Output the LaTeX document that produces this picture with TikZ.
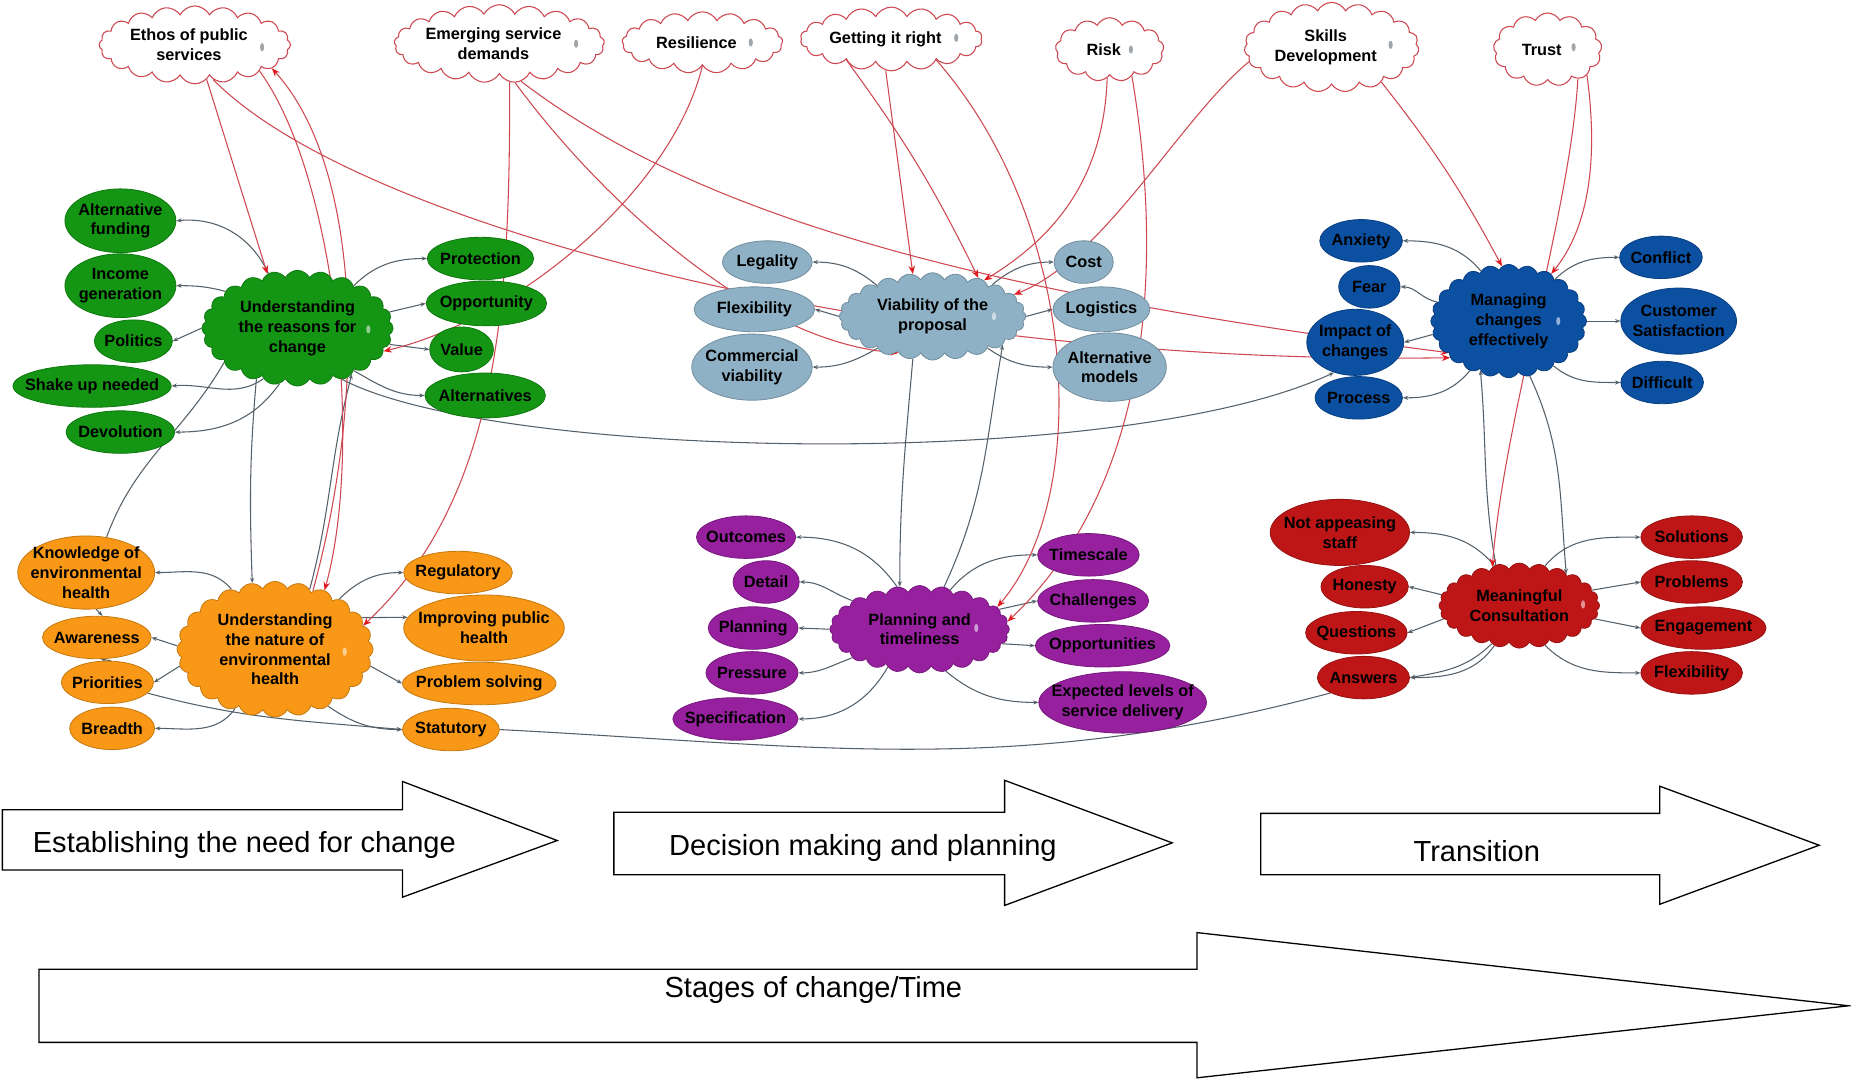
\documentclass[tikz,border=0pt]{standalone}
\usepackage{fontspec}
\setmainfont{Liberation Sans}
\usetikzlibrary{shapes.geometric,shapes.symbols,arrows.meta,calc}
\pgfdeclarelayer{background}
\pgfsetlayers{background,main}

\definecolor{cgreen}{RGB}{20,150,20}
\definecolor{corange}{RGB}{248,152,22}
\definecolor{cpale}{RGB}{143,177,197}
\definecolor{cpurple}{RGB}{150,32,158}
\definecolor{cblue}{RGB}{12,80,162}
\definecolor{cred}{RGB}{190,22,22}
\definecolor{linkred}{RGB}{206,72,82}
\definecolor{tipred}{RGB}{225,25,30}
\definecolor{linkgrey}{RGB}{84,96,106}
\definecolor{icongrey}{RGB}{160,165,170}

\newcommand\nf{\bfseries\fontsize{13.8}{16.8}\selectfont}
\newcommand\stf{\fontsize{24.6}{28}\selectfont}

\tikzset{
  sz/.style 2 args={minimum width=#1pt, minimum height=#2pt},
  leaf/.style={ellipse, fill=#1, draw=#1!80!black, line width=0.7pt, inner sep=0pt},
  hub/.style={cloud, cloud puffs=24, cloud puff arc=125, cloud ignores aspect,
    fill=#1, draw=#1!80!black, line width=0.7pt, inner sep=0pt},
  theme/.style={cloud, cloud puffs=#1, cloud puff arc=125, cloud ignores aspect,
    fill=white, draw=linkred, line width=0.9pt, inner sep=0pt},
  lbl/.style={font=\nf, align=center, inner sep=0pt},
  tlbl/.style={lbl, xshift=-5pt},
  gc/.style={draw=linkgrey, line width=0.9pt, -{Stealth[length=4.5pt,width=3.5pt]}},
  gcn/.style={draw=linkgrey, line width=0.9pt},
  rc/.style={draw=linkred, line width=0.9pt, -{Stealth[length=7pt,width=5.5pt,color=tipred]}},
  stage/.style={draw=black, line width=1.1pt, fill=white},
  stagetext/.style={font=\stf, inner sep=0pt},
  icon/.style={ellipse, fill=icongrey, inner sep=0pt, minimum width=3.5pt, minimum height=7pt},
  hicon/.style={icon, fill=white, fill opacity=0.55},
}

\begin{document}
\begin{tikzpicture}[x=1pt,y=-1pt]
\useasboundingbox (0,0) rectangle (1568,914);

% ---------- themes ----------
\node[theme=20, sz={162}{66}, label={[tlbl]center:{Ethos of public\\services}}] (cEt) at (165,38) {};
\node[theme=21, sz={178}{66}, label={[tlbl]center:{Emerging service\\demands}}] (cEm) at (423,37) {};
\node[theme=17, sz={136}{52}, label={[tlbl]center:{Resilience}}] (cRe) at (595,36) {};
\node[theme=18, sz={154}{54}, label={[tlbl]center:{Getting it right}}] (cGe) at (755,33) {};
\node[theme=13, sz={92}{54}, label={[tlbl]center:{Risk}}] (cRi) at (940,42) {};
\node[theme=19, sz={148}{76}, label={[tlbl]center:{Skills\\Development}}] (cSk) at (1128,40) {};
\node[theme=13, sz={92}{62}, label={[tlbl]center:{Trust}}] (cTr) at (1311,42) {};

% ---------- reasons for change ----------
\node[hub=cgreen, sz={162}{98}, label={[lbl]center:{Understanding\\the reasons for\\change}}] (gC) at (252,278) {};
\node[leaf=cgreen, sz={94}{54}, label={[lbl]center:{Alternative\\funding}}] (gAF) at (102,187) {};
\node[leaf=cgreen, sz={94}{54}, label={[lbl]center:{Income\\generation}}] (gIG) at (102,242) {};
\node[leaf=cgreen, sz={66}{36}, label={[lbl]center:{Politics}}] (gPo) at (113,289) {};
\node[leaf=cgreen, sz={134}{36}, label={[lbl]center:{Shake up needed}}] (gSU) at (78,327) {};
\node[leaf=cgreen, sz={92}{36}, label={[lbl]center:{Devolution}}] (gDe) at (102,366) {};
\node[leaf=cgreen, sz={90}{36}, label={[lbl]center:{Protection}}] (gPr) at (407,219) {};
\node[leaf=cgreen, sz={102}{38}, label={[lbl]center:{Opportunity}}] (gOp) at (412,257) {};
\node[leaf=cgreen, sz={54}{38}, label={[lbl]center:{Value}}] (gVa) at (391,296) {};
\node[leaf=cgreen, sz={102}{38}, label={[lbl]center:{Alternatives}}] (gAl) at (411,335) {};

% ---------- nature of environmental health ----------
\node[hub=corange, sz={166}{115}, label={[lbl]center:{Understanding\\the nature of\\environmental\\health}}] (oC) at (233,550) {};
\node[leaf=corange, sz={116}{62}, label={[lbl]center:{Knowledge of\\environmental\\health}}] (oKn) at (73,485) {};
\node[leaf=corange, sz={92}{36}, label={[lbl]center:{Awareness}}] (oAw) at (82,540) {};
\node[leaf=corange, sz={78}{36}, label={[lbl]center:{Priorities}}] (oPri) at (91,578) {};
\node[leaf=corange, sz={72}{36}, label={[lbl]center:{Breadth}}] (oBr) at (95,617) {};
\node[leaf=corange, sz={92}{36}, label={[lbl]center:{Regulatory}}] (oRe) at (388,485) {};
\node[leaf=corange, sz={136}{56}, label={[lbl]center:{Improving public\\health}}] (oIm) at (410,532) {};
\node[leaf=corange, sz={130}{36}, label={[lbl]center:{Problem solving}}] (oPS) at (406,579) {};
\node[leaf=corange, sz={82}{36}, label={[lbl]center:{Statutory}}] (oSt) at (382,618) {};

% ---------- viability ----------
\node[hub=cpale, sz={158}{74}, label={[lbl]center:{Viability of the\\proposal}}] (bC) at (790,268) {};
\node[leaf=cpale, sz={76}{36}, label={[lbl]center:{Legality}}] (bLe) at (650,222) {};
\node[leaf=cpale, sz={102}{38}, label={[lbl]center:{Flexibility}}] (bFl) at (639,262) {};
\node[leaf=cpale, sz={102}{56}, label={[lbl]center:{Commercial\\viability}}] (bCV) at (637,311) {};
\node[leaf=cpale, sz={50}{36}, label={[lbl]center:{Cost}}] (bCo) at (918,222) {};
\node[leaf=cpale, sz={82}{38}, label={[lbl]center:{Logistics}}] (bLo) at (933,262) {};
\node[leaf=cpale, sz={96}{58}, label={[lbl]center:{Alternative\\models}}] (bAM) at (940,311) {};

% ---------- planning ----------
\node[hub=cpurple, sz={152}{74}, label={[lbl]center:{Planning and\\timeliness}}] (pC) at (779,533) {};
\node[leaf=cpurple, sz={84}{36}, label={[lbl]center:{Outcomes}}] (pOu) at (632,455) {};
\node[leaf=cpurple, sz={56}{36}, label={[lbl]center:{Detail}}] (pDe) at (649,493) {};
\node[leaf=cpurple, sz={76}{36}, label={[lbl]center:{Planning}}] (pPl) at (638,532) {};
\node[leaf=cpurple, sz={78}{36}, label={[lbl]center:{Pressure}}] (pPr) at (637,570) {};
\node[leaf=cpurple, sz={106}{36}, label={[lbl]center:{Specification}}] (pSp) at (623,609) {};
\node[leaf=cpurple, sz={86}{36}, label={[lbl]center:{Timescale}}] (pTi) at (922,470) {};
\node[leaf=cpurple, sz={94}{36}, label={[lbl]center:{Challenges}}] (pCh) at (926,509) {};
\node[leaf=cpurple, sz={114}{36}, label={[lbl]center:{Opportunities}}] (pOp) at (934,547) {};
\node[leaf=cpurple, sz={142}{52}, label={[lbl]center:{Expected levels of\\service delivery}}] (pEx) at (951,595) {};

% ---------- managing change ----------
\node[hub=cblue, sz={132}{96}, label={[lbl]center:{Managing\\changes\\effectively}}] (uC) at (1278,272) {};
\node[leaf=cblue, sz={70}{36}, label={[lbl]center:{Anxiety}}] (uAn) at (1153,204) {};
\node[leaf=cblue, sz={52}{36}, label={[lbl]center:{Fear}}] (uFe) at (1160,243) {};
\node[leaf=cblue, sz={82}{56}, label={[lbl]center:{Impact of\\changes}}] (uIm) at (1148,290) {};
\node[leaf=cblue, sz={74}{36}, label={[lbl]center:{Process}}] (uPr) at (1151,337) {};
\node[leaf=cblue, sz={70}{36}, label={[lbl]center:{Conflict}}] (uCo) at (1407,218) {};
\node[leaf=cblue, sz={98}{56}, label={[lbl]center:{Customer\\Satisfaction}}] (uCS) at (1422,272) {};
\node[leaf=cblue, sz={70}{36}, label={[lbl]center:{Difficult}}] (uDi) at (1408,324) {};

% ---------- consultation ----------
\node[hub=cred, sz={136}{72}, label={[lbl]center:{Meaningful\\Consultation}}] (rC) at (1287,513) {};
\node[leaf=cred, sz={118}{56}, label={[lbl]center:{Not appeasing\\staff}}] (rNA) at (1135,451) {};
\node[leaf=cred, sz={74}{36}, label={[lbl]center:{Honesty}}] (rHo) at (1156,497) {};
\node[leaf=cred, sz={86}{36}, label={[lbl]center:{Questions}}] (rQu) at (1149,536) {};
\node[leaf=cred, sz={78}{36}, label={[lbl]center:{Answers}}] (rAn) at (1155,574) {};
\node[leaf=cred, sz={86}{36}, label={[lbl]center:{Solutions}}] (rSo) at (1433,455) {};
\node[leaf=cred, sz={86}{36}, label={[lbl]center:{Problems}}] (rPr) at (1433,493) {};
\node[leaf=cred, sz={106}{36}, label={[lbl]center:{Engagement}}] (rEn) at (1443,532) {};
\node[leaf=cred, sz={86}{36}, label={[lbl]center:{Flexibility}}] (rFl) at (1433,570) {};

% ---------- attachment icons ----------
\node[icon] (i1) at (222,40) {};
\node[icon] (i2) at (488,37) {};
\node[icon] (i3) at (636,36) {};
\node[icon] (i4) at (810,32) {};
\node[icon] (i5) at (958,42) {};
\node[icon] (i6) at (1178,38) {};
\node[icon] (i7) at (1333,40) {};
\node[hicon] (i8) at (312,279) {};
\node[hicon] (i9) at (292,552) {};
\node[hicon] (i10) at (842,268) {};
\node[hicon] (i11) at (827,532) {};
\node[hicon] (i12) at (1320,272) {};
\node[hicon] (i13) at (1341,512) {};

% ---------- links ----------
\begin{pgfonlayer}{background}
% reasons for change
\draw[gc] (gC.118) to[out=115,in=5] (gAF.east);
\draw[gc] (gC.153) to[out=165,in=0] (gIG.east);
\draw[gc] (gC.180) -- (gPo.east);
\draw[gc] (gC.236) to[out=215,in=5] (gSU.east);
\draw[gc] (gC.252) to[out=235,in=0] (gDe.east);
\draw[gc] (gC.37) to[out=45,in=180] (gPr.west);
\draw[gc] (gC.10) -- (gOp.west);
\draw[gc] (gC.-10) -- (gVa.west);
\draw[gc] (gC.-37) to[out=-30,in=180] (gAl.west);
% nature of environmental health
\draw[gc] (oC.126) to[out=130,in=0] (oKn.east);
\draw[gc] (oC.178) -- (oAw.east);
\draw[gc] (oC.190) -- (oPri.east);
\draw[gc] (oC.236) to[out=235,in=0] (oBr.east);
\draw[gc] (oC.38) to[out=45,in=180] (oRe.west);
\draw[gc] (oC.20) -- (oIm.172);
\draw[gc] (oC.-10) -- (oPS.west);
\draw[gc] (oC.-47) to[out=-35,in=180] (oSt.west);
\draw[gc] (oKn.-75) -- (oAw.75);
\draw[gc] (oPri.80) -- (oAw.-80);
\draw[gc] (oPri.-15) to[out=-15,in=175] (oSt.west);
\draw[gcn] (oSt.east) to[out=-3,in=195] (rAn.205);
% between clusters
\draw[gc] (gC.231) to[out=-95,in=92] (oC.109);
\draw[gc] (oC.60) to[out=75,in=-105] (gC.-40);
\draw[gcn] (gC.205) to[out=240,in=70] (oKn.60);
\draw[gc] (gC.-49) .. controls (420,390) and (950,400) .. (uIm.235);
% viability
\draw[gc] (bC.151) to[out=140,in=0] (bLe.east);
\draw[gc] (bC.180) -- (bFl.east);
\draw[gc] (bC.210) to[out=210,in=0] (bCV.east);
\draw[gc] (bC.28) to[out=40,in=180] (bCo.west);
\draw[gc] (bC.0) -- (bLo.west);
\draw[gc] (bC.-30) to[out=-35,in=180] (bAM.west);
\draw[gc] (bC.245) to[out=-95,in=90] (pC.115);
\draw[gc] (pC.60) to[out=65,in=-100] (bC.-22);
% planning
\draw[gc] (pC.118) to[out=125,in=0] (pOu.east);
\draw[gc] (pC.157) to[out=160,in=0] (pDe.east);
\draw[gc] (pC.180) -- (pPl.east);
\draw[gc] (pC.203) to[out=200,in=0] (pPr.east);
\draw[gc] (pC.230) to[out=240,in=0] (pSp.east);
\draw[gc] (pC.52) to[out=50,in=180] (pTi.west);
\draw[gc] (pC.14) -- (pCh.west);
\draw[gc] (pC.-10) -- (pOp.west);
\draw[gc] (pC.-58) to[out=-40,in=180] (pEx.west);
% managing change
\draw[gc] (uC.119) to[out=130,in=0] (uAn.east);
\draw[gc] (uC.165) to[out=170,in=0] (uFe.east);
\draw[gc] (uC.190) -- (uIm.east);
\draw[gc] (uC.232) to[out=230,in=0] (uPr.east);
\draw[gc] (uC.42) to[out=45,in=180] (uCo.west);
\draw[gc] (uC.0) -- (uCS.west);
\draw[gc] (uC.-45) to[out=-40,in=180] (uDi.west);
\draw[gc] (rC.120) to[out=100,in=-85] (uC.240);
\draw[gc] (uC.-69) to[out=-65,in=95] (rC.34);
% consultation
\draw[gc] (rC.122) to[out=130,in=0] (rNA.east);
\draw[gc] (rC.172) -- (rHo.east);
\draw[gc] (rC.190) -- (rQu.east);
\draw[gc] (rC.234) to[out=225,in=10] (rAn.east);
\draw[gc] (rC.238) to[out=235,in=0] (rAn.east);
\draw[gc] (rC.57) to[out=50,in=180] (rSo.west);
\draw[gc] (rC.12) -- (rPr.west);
\draw[gc] (rC.-10) -- (rEn.west);
\draw[gc] (rC.-57) to[out=-45,in=180] (rFl.west);
% themes feeding the stages
\draw[rc] (cEt.-71) -- (gC.119);
\draw[rc] (cEt.-62) .. controls (300,190) and (750,310) .. (uC.212);
\draw[rc] (cEt.-22) .. controls (285,150) and (308,380) .. (oC.50);
\draw[rc] (oC.57) .. controls (312,330) and (305,140) .. (cEt.-17);
\draw[rc] (cEm.-75) .. controls (432,250) and (425,420) .. (oC.15);
\draw[rc] (cEm.-68) .. controls (510,170) and (640,290) .. (bC.227);
\draw[rc] (cEm.-60) .. controls (600,190) and (850,250) .. (uC.208);
\draw[rc] (cRe.-90) .. controls (570,160) and (440,270) .. (gC.-15);
\draw[rc] (cGe.-100) -- (bC.115);
\draw[rc] (cGe.205) to[bend left=5] (bC.40);
\draw[rc] (cGe.-25) .. controls (915,190) and (925,420) .. (pC.16);
\draw[rc] (cRi.-95) .. controls (935,150) and (895,200) .. (bC.35);
\draw[rc] (cRi.-50) .. controls (990,250) and (965,420) .. (pC.5);
\draw[rc] (cSk.190) .. controls (1000,100) and (935,220) .. (bC.15);
\draw[rc] (cSk.-35) to[bend left=5] (uC.97);
\draw[rc] (cTr.-33) .. controls (1356,150) and (1340,200) .. (uC.48);
\draw[rc] (cTr.-44) .. controls (1330,180) and (1275,350) .. (rC.125);
\end{pgfonlayer}

% ---------- stages ----------
\draw[stage] (2,686) -- (341,686) -- (341,662) -- (472,712) -- (341,760) -- (341,737) -- (2,737) -- cycle;
\node[stagetext] (s1) at (207,716) {Establishing the need for change};
\draw[stage] (520,688) -- (851,688) -- (851,661) -- (993,714) -- (851,767) -- (851,741) -- (520,741) -- cycle;
\node[stagetext] (s2) at (731,718) {Decision making and planning};
\draw[stage] (1068,689) -- (1406,689) -- (1406,666) -- (1541,716) -- (1406,766) -- (1406,741) -- (1068,741) -- cycle;
\node[stagetext] (s3) at (1251,721) {Transition};
\draw[stage] (33,821) -- (1014,821) -- (1014,790) -- (1566,852) -- (1014,913) -- (1014,883) -- (33,883) -- cycle;
\node[stagetext] (s4) at (689,839) {Stages of change/Time};
\end{tikzpicture}
\end{document}
